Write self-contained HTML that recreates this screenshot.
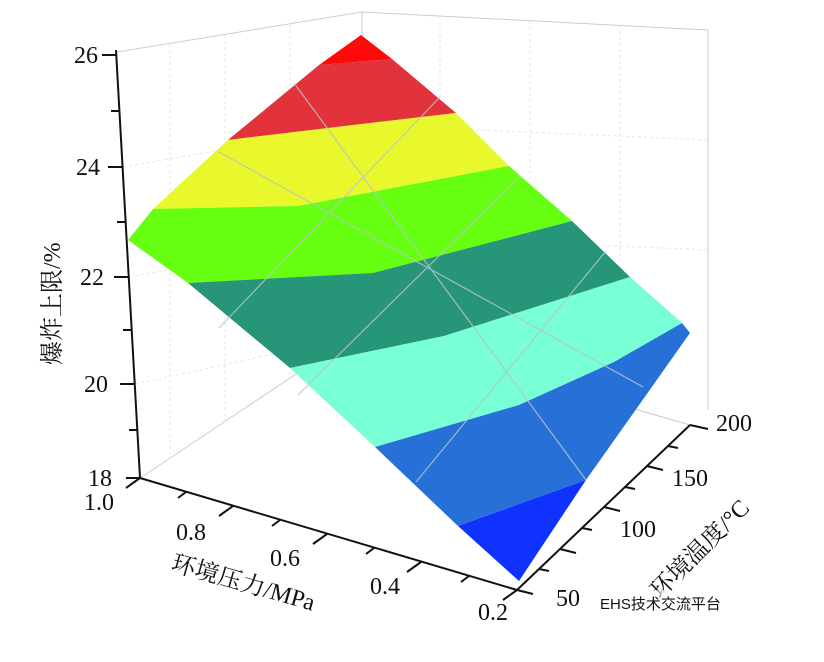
<!DOCTYPE html>
<html><head><meta charset="utf-8"><style>
html,body{margin:0;padding:0;background:#fff}
svg{display:block}
text{font-family:"Liberation Serif","Noto Serif CJK SC",serif;fill:#111}
</style></head><body>
<svg width="824" height="662" viewBox="0 0 824 662" xmlns="http://www.w3.org/2000/svg">
<g stroke="#c8ccd0" stroke-width="1" fill="none">
<polyline points="117,52 362,12 708,30 708,410"/>
<line x1="362" y1="12" x2="362" y2="330"/>
<line x1="140" y1="478" x2="362" y2="330"/>
<line x1="362" y1="330" x2="690" y2="425"/>
<g stroke="#e4e6e8" stroke-dasharray="3,3">
<line x1="123" y1="167" x2="362" y2="125"/><line x1="129" y1="277" x2="362" y2="235"/><line x1="135" y1="384" x2="362" y2="335"/>
<line x1="362" y1="125" x2="708" y2="140"/><line x1="362" y1="235" x2="708" y2="250"/>
<line x1="440" y1="16" x2="440" y2="352"/><line x1="530" y1="21" x2="530" y2="378"/><line x1="620" y1="25" x2="620" y2="404"/>
<line x1="170" y1="44" x2="170" y2="458"/><line x1="225" y1="35" x2="225" y2="420"/><line x1="290" y1="24" x2="290" y2="378"/>
</g>
</g>
<g stroke="none">
<polygon fill="#ff0a0a" points="361,35 392,59 319,65"/>
<polygon fill="#e2323b" points="319,65 392,59 456,113 345,126 228,140"/>
<polygon fill="#e8f82c" points="228,140 345,126 456,113 509,166 298,206 153,209"/>
<polygon fill="#66ff12" points="153,209 298,206 509,166 572,221 373,273 188,283 128,240"/>
<polygon fill="#279578" points="188,283 373,273 572,221 630,277 444,336 290,368"/>
<polygon fill="#78ffd6" points="290,368 444,336 630,277 682,323 614,362 519,405 375,447"/>
<polygon fill="#2670d8" points="375,447 519,405 614,362 682,323 690,333 586,480 458,526"/>
<polygon fill="#1032ff" points="458,526 586,480 519,581"/>
</g>
<g stroke="#b8c4c8" stroke-width="1.2" fill="none" opacity="0.85">
<line x1="294" y1="83" x2="586" y2="480"/>
<line x1="219" y1="152" x2="643" y2="387"/>
<line x1="440" y1="97" x2="219" y2="328"/>
<line x1="520" y1="176" x2="298" y2="395"/>
<line x1="606" y1="251" x2="416" y2="482"/>
</g>
<g stroke="#111" stroke-width="2" fill="none">
<line x1="116" y1="50" x2="140" y2="478"/>
<line x1="102" y1="55" x2="116" y2="55"/><line x1="111" y1="111" x2="119" y2="111"/>
<line x1="108" y1="167" x2="122" y2="167"/><line x1="117" y1="222" x2="125" y2="222"/>
<line x1="114" y1="277" x2="128" y2="277"/><line x1="123" y1="330" x2="131" y2="330"/>
<line x1="120" y1="384" x2="134" y2="384"/><line x1="129" y1="430" x2="137" y2="430"/>
<line x1="126" y1="478" x2="140" y2="478"/>
<line x1="140" y1="478" x2="517" y2="590"/>
<line x1="140" y1="478" x2="126" y2="488"/>
<line x1="186" y1="492" x2="178" y2="498"/><line x1="233" y1="506" x2="219" y2="516"/>
<line x1="280" y1="520" x2="272" y2="526"/><line x1="327" y1="534" x2="313" y2="544"/>
<line x1="374" y1="548" x2="366" y2="554"/><line x1="421" y1="562" x2="407" y2="572"/>
<line x1="469" y1="576" x2="461" y2="582"/><line x1="517" y1="590" x2="503" y2="600"/>
<line x1="517" y1="590" x2="690" y2="425"/>
<line x1="690" y1="425" x2="708" y2="429"/>
<line x1="668" y1="446" x2="678" y2="448"/><line x1="647" y1="466" x2="663" y2="470"/>
<line x1="625" y1="487" x2="635" y2="489"/><line x1="604" y1="507" x2="620" y2="511"/>
<line x1="582" y1="528" x2="592" y2="530"/><line x1="560" y1="549" x2="576" y2="553"/>
<line x1="539" y1="569" x2="549" y2="571"/><line x1="517" y1="590" x2="533" y2="594"/>
</g>
<g font-size="24">
<text x="98" y="63" text-anchor="end">26</text>
<text x="100" y="175" text-anchor="end">24</text>
<text x="104" y="285" text-anchor="end">22</text>
<text x="108" y="392" text-anchor="end">20</text>
<text x="112" y="486" text-anchor="end">18</text>
<text x="84" y="510">1.0</text>
<text x="176" y="540">0.8</text>
<text x="270" y="566">0.6</text>
<text x="370" y="594">0.4</text>
<text x="478" y="620">0.2</text>
<text x="716" y="431">200</text>
<text x="672" y="486">150</text>
<text x="620" y="537">100</text>
<text x="556" y="606">50</text>
</g>
<text x="0" y="0" font-size="24" transform="translate(60,365) rotate(-90)">爆炸上限/%</text>
<text x="0" y="0" font-size="24" transform="translate(170,570) rotate(16)">环境压力/MPa</text>
<text x="0" y="0" font-size="24" transform="translate(660,600) rotate(-45)">环境温度/°C</text>
<rect x="585" y="590" width="180" height="26" fill="#fff" opacity="0.6"/>
<text x="600" y="609" font-size="15" style="font-family:'Liberation Sans','Noto Sans CJK SC',sans-serif" fill="#999">EHS技术交流平台</text>
</svg>
</body></html>
